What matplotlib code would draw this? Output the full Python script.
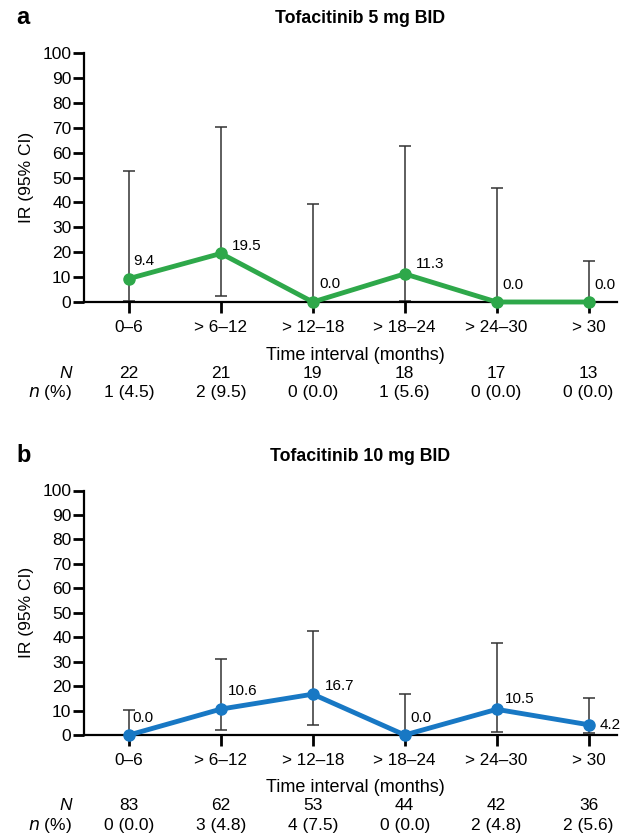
import matplotlib.pyplot as plt
import matplotlib.transforms as mtransforms

plt.rcParams['font.family'] = ['Liberation Sans', 'DejaVu Sans']

intervals = ['0\u20136', '> 6\u201312', '> 12\u201318', '> 18\u201324', '> 24\u201330', '> 30']

# panel a: tofacitinib 5 mg BID
ir_5 = [9.4, 19.5, 0.0, 11.3, 0.0, 0.0]
lo_5 = [0.4, 2.4, 0.0, 0.4, 0.0, 0.0]
hi_5 = [52.5, 70.3, 39.4, 62.8, 45.8, 16.5]
N_5 = [22, 21, 19, 18, 17, 13]
n_5 = ['1 (4.5)', '2 (9.5)', '0 (0.0)', '1 (5.6)', '0 (0.0)', '0 (0.0)']

# panel b: tofacitinib 10 mg BID
ir_10 = [0.0, 10.6, 16.7, 0.0, 10.5, 4.2]
lo_10 = [0.0, 2.1, 4.2, 0.0, 1.2, 0.7]
hi_10 = [10.1, 31.0, 42.6, 16.8, 37.8, 15.3]
N_10 = [83, 62, 53, 44, 42, 36]
n_10 = ['0 (0.0)', '3 (4.8)', '4 (7.5)', '0 (0.0)', '2 (4.8)', '2 (5.6)']

# label offsets in pixels (dx, dy)
off_5 = [(4, 18), (11, 7), (7, 18), (11, 10), (6, 17), (6, 17)]
off_10 = [(3, 17), (7, 18), (12, 8), (6, 17), (8, 10), (11, 0)]

fig = plt.figure(figsize=(6.32, 8.39), dpi=100)


def panel(rect, letter, title, ir, lo, hi, N, npct, offs, color, table_y):
    ax = fig.add_axes(rect)
    x = list(range(len(ir)))
    yerr = [[v - l for v, l in zip(ir, lo)], [h - v for v, h in zip(ir, hi)]]
    ax.errorbar(x, ir, yerr=yerr, fmt='none', ecolor='#333333', elinewidth=1.1,
                capsize=4, capthick=1.1, zorder=2, clip_on=False)
    ax.plot(x, ir, color=color, lw=3.5, marker='o', ms=8, zorder=3, clip_on=False)
    for xi, v, (dx, dy) in zip(x, ir, offs):
        ax.annotate(f'{v:.1f}', (xi, v), xytext=(dx * 0.72, dy * 0.72),
                    textcoords='offset points', fontsize=11, ha='left', va='center')
    ax.set_xlim(-0.49, 5.31)
    ax.set_ylim(0, 100)
    ax.set_yticks(range(0, 101, 10))
    ax.set_xticks(x)
    ax.set_xticklabels(intervals)
    ax.spines['top'].set_visible(False)
    ax.spines['right'].set_visible(False)
    for s in ['left', 'bottom']:
        ax.spines[s].set_linewidth(1.6)
    ax.tick_params(axis='both', width=2, length=8, labelsize=12.5, direction='out')
    ax.tick_params(axis='y', pad=1)
    ax.tick_params(axis='x', labelsize=12.3, pad=5)
    ax.set_ylabel('IR (95% CI)', fontsize=12.5, labelpad=6)
    ax.set_xlabel('Time interval (months)', fontsize=13, labelpad=5)
    ax.xaxis.set_label_coords(0.51, -0.18)
    trans = mtransforms.blended_transform_factory(ax.transData, fig.transFigure)
    for xi, a, b in zip(x, N, npct):
        ax.text(xi, table_y, str(a), transform=trans, fontsize=12.5, ha='center', va='center')
        ax.text(xi, table_y - 0.023, b, transform=trans, fontsize=12.5, ha='center', va='center')
    fig.text(72 / 632, table_y, 'N', style='italic', fontsize=12.5, ha='right', va='center')
    fig.text(72 / 632, table_y - 0.023, '$\\it{n}$ (%)', fontsize=12.5, ha='right', va='center')
    top = rect[1] + rect[3]
    fig.text(16 / 632, top + 0.042, letter, fontsize=17, fontweight='bold', va='center')
    fig.text(360 / 632, top + 0.041, title, fontsize=12.8, fontweight='bold', ha='center', va='center')
    return ax


panel([84 / 632, 1 - 302 / 839, 533 / 632, 249 / 839], 'a', 'Tofacitinib 5 mg BID',
      ir_5, lo_5, hi_5, N_5, n_5, off_5, '#2ea84a', 1 - 373 / 839)
panel([84 / 632, 1 - 735 / 839, 533 / 632, 244.5 / 839], 'b', 'Tofacitinib 10 mg BID',
      ir_10, lo_10, hi_10, N_10, n_10, off_10, '#1878c4', 1 - 806 / 839)

fig.savefig('out.png', dpi=100)
